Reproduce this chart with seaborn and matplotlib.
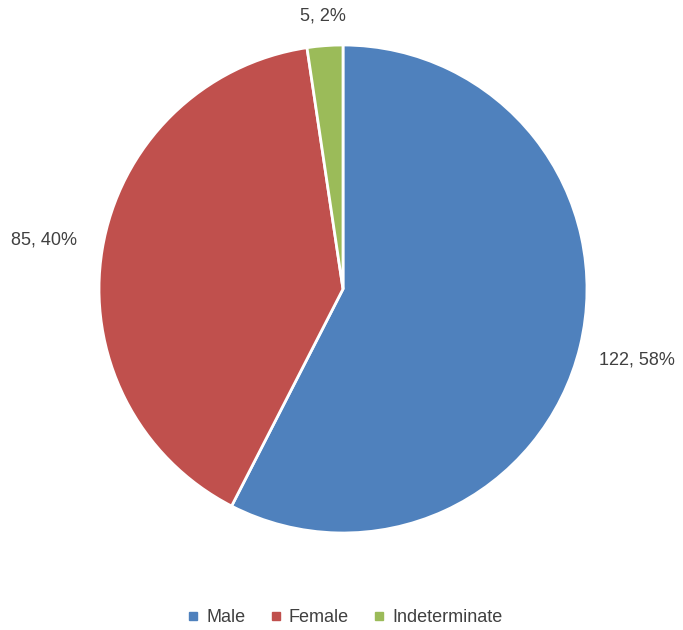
import numpy as np
import matplotlib
matplotlib.use("Agg")
import matplotlib.pyplot as plt
import seaborn as sns
from matplotlib.lines import Line2D

categories = ["Male", "Female", "Indeterminate"]
counts = [122, 85, 5]
colors = ["#4F81BD", "#C0504D", "#9BBB59"]
label_dist = [1.24, 1.24, 1.12]

sns.set_theme(style="white")
plt.rcParams["font.family"] = ["Liberation Sans", "DejaVu Sans"]
text_color = "#404040"

fig = plt.figure(figsize=(6.83, 6.30), dpi=100)
ax = fig.add_axes([0, 0, 1, 1])

total = sum(counts)
wedges, _ = ax.pie(
    counts, colors=sns.color_palette(colors), startangle=90, counterclock=False,
    radius=1.0, wedgeprops=dict(edgecolor="white", linewidth=2)
)

# labels "count, pct" placed along each wedge's mid angle
for w, c, d in zip(wedges, counts, label_dist):
    mid = np.deg2rad((w.theta1 + w.theta2) / 2)
    ax.text(d * np.cos(mid), d * np.sin(mid), f"{c}, {round(100 * c / total)}%",
            ha="center", va="center", fontsize=13, color=text_color)

# map data units so the pie sits where it does in the reference
scale = 244.0
ax.set_xlim(-343 / scale, (683 - 343) / scale)
ax.set_ylim(-(630 - 289) / scale, 289 / scale)
ax.set_aspect("auto")
ax.axis("off")

handles = [Line2D([0], [0], marker="s", linestyle="", markersize=6,
                  markerfacecolor=col, markeredgecolor=col) for col in colors]
fig.legend(handles, categories, loc="center", bbox_to_anchor=(0.5, 1 - 618 / 630),
           ncol=3, frameon=False, fontsize=13, handletextpad=0.0, handlelength=1.4,
           columnspacing=1.0, labelcolor=text_color)

plt.savefig("out.png", dpi=100)
plt.close()
